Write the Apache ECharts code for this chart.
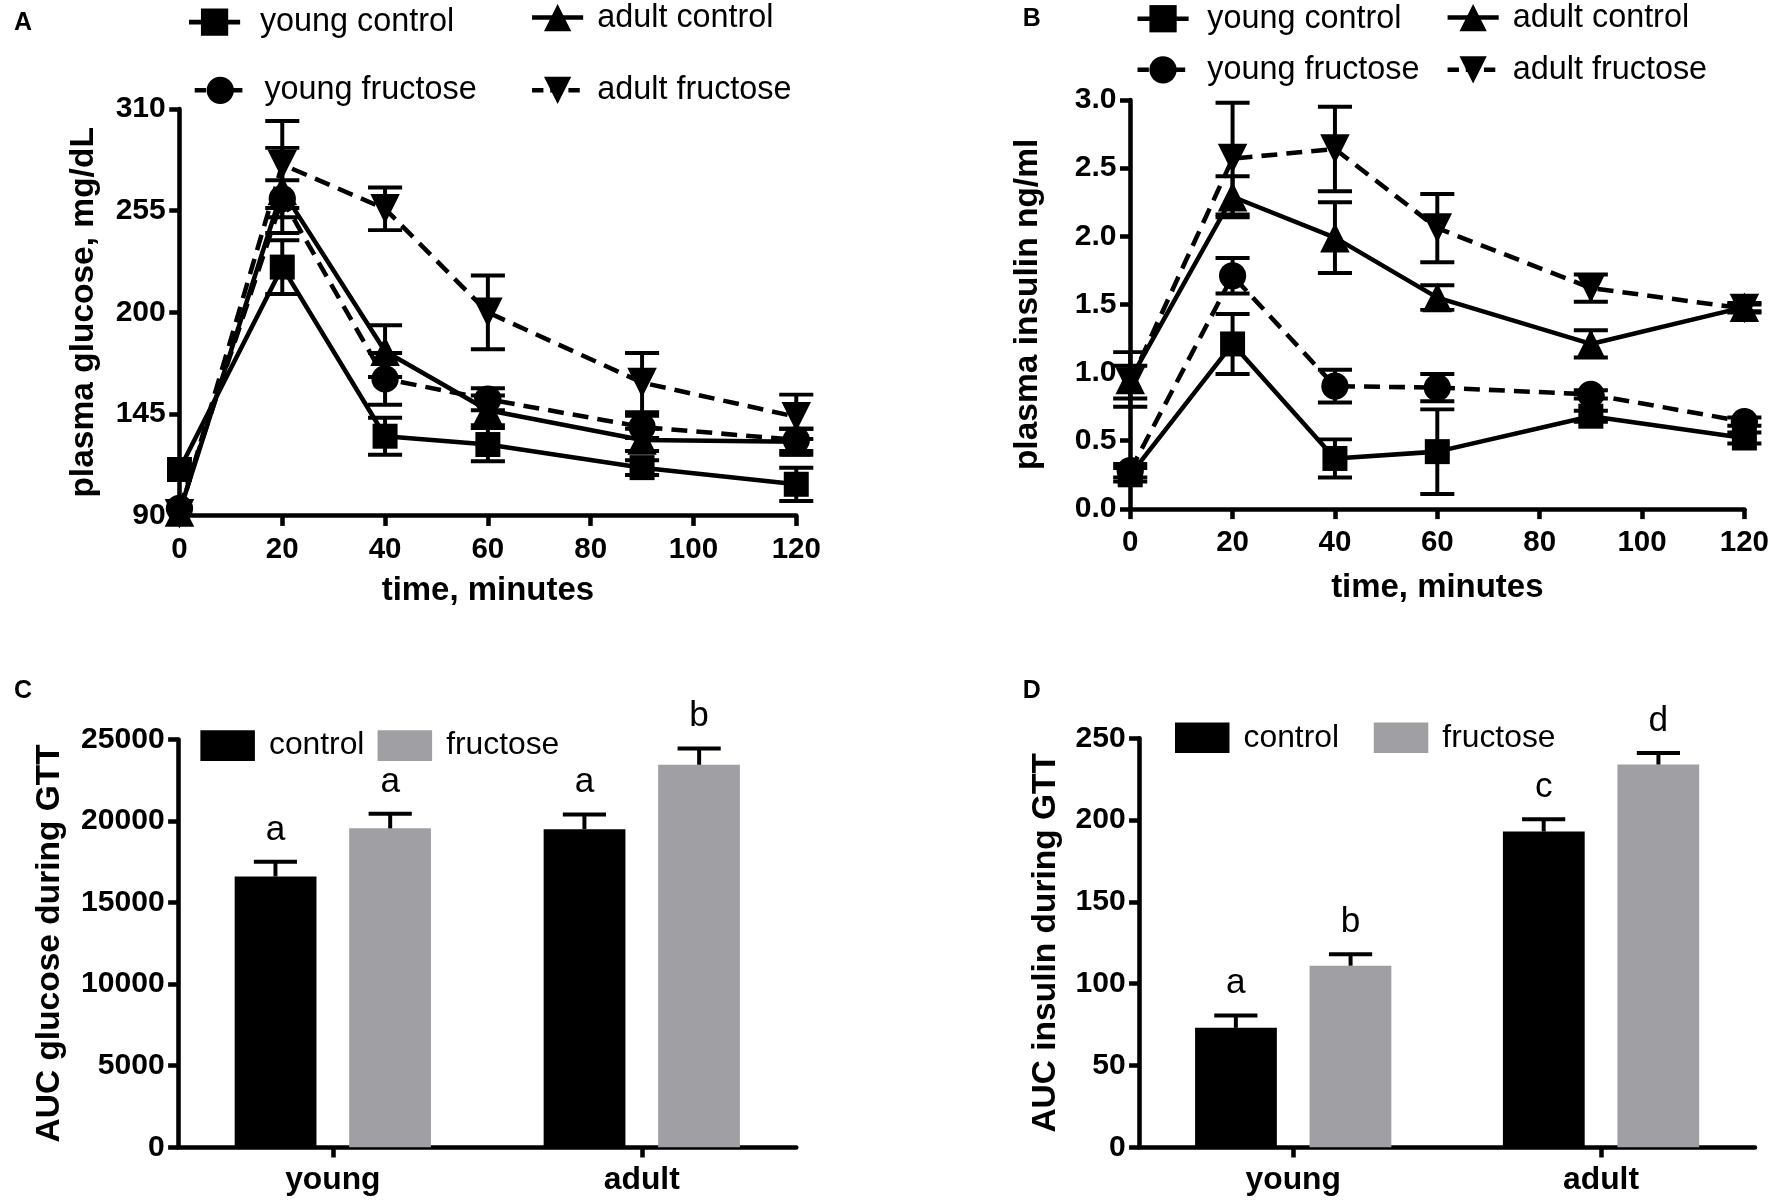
<!DOCTYPE html>
<html>
<head>
<meta charset="utf-8">
<script src="https://cdn.jsdelivr.net/npm/echarts@6/dist/echarts.min.js"></script>
<style>
html,body{margin:0;padding:0;background:#fff;}
#chart{width:1772px;height:1200px;}
</style>
</head>
<body>
<div id="chart"></div>
<script>
// ---------- DATA ----------
const times = [0, 20, 40, 60, 90, 120];

const glucoseYoungControl    = [115, 224.5, 133, 128.5, 116, 107];
const glucoseYoungControlErr = [0, 14.5, 10, 9, 4, 9];
const glucoseYoungFructose    = [94, 261.5, 164, 153, 138, 131];
const glucoseYoungFructoseErr = [0, 10, 14, 6, 6, 6];
const glucoseAdultControl    = [92, 266, 179, 147, 131, 130];
const glucoseAdultControlErr = [0, 23, 14, 8, 6, 7];
const glucoseAdultFructose    = [91, 280, 256, 200, 162, 143.5];
const glucoseAdultFructoseErr = [0, 23.5, 11.5, 20, 16, 12];

const insulinYoungControl    = [0.25, 1.21, 0.37, 0.42, 0.68, 0.52];
const insulinYoungControlErr = [0.05, 0.22, 0.14, 0.31, 0.04, 0.04];
const insulinYoungFructose    = [0.28, 1.71, 0.90, 0.89, 0.84, 0.64];
const insulinYoungFructoseErr = [0.05, 0.13, 0.12, 0.10, 0.03, 0.03];
const insulinAdultControl    = [0.95, 2.29, 1.99, 1.55, 1.21, 1.48];
const insulinAdultControlErr = [0.20, 0.15, 0.26, 0.09, 0.10, 0.03];
const insulinAdultFructose    = [0.93, 2.57, 2.64, 2.06, 1.62, 1.47];
const insulinAdultFructoseErr = [0.12, 0.41, 0.31, 0.25, 0.10, 0.03];

const ageGroups = ['young', 'adult'];
const aucGlucoseControl     = [16600, 19500];
const aucGlucoseControlErr  = [900, 900];
const aucGlucoseFructose    = [19550, 23450];
const aucGlucoseFructoseErr = [900, 1000];
const aucGlucoseControlLetters  = ['a', 'a'];
const aucGlucoseFructoseLetters = ['a', 'b'];

const aucInsulinControl     = [73, 193];
const aucInsulinControlErr  = [7.5, 7.5];
const aucInsulinFructose    = [111, 234];
const aucInsulinFructoseErr = [7, 7];
const aucInsulinControlLetters  = ['a', 'c'];
const aucInsulinFructoseLetters = ['b', 'd'];

// ---------- LAYOUT ----------
const S = 1772 / 1560;
const P = v => v * S;
const SANS = "'Liberation Sans',Arial,sans-serif";
const GRAY = '#a0a0a4';
const DASH = [P(14), P(8)];

const chart = echarts.init(document.getElementById('chart'), null, {renderer: 'canvas'});

function valueAxis(gridIndex, min, max, interval, name, nameGap, fmt) {
  return {
    type: 'value', gridIndex, min, max, interval,
    name, nameLocation: 'middle', nameGap: P(nameGap),
    nameTextStyle: {fontFamily: SANS, fontWeight: 'bold', fontSize: P(29.5), color: '#000'},
    axisLine: {show: true, lineStyle: {color: '#000', width: P(4)}},
    axisTick: {show: true, length: P(9), lineStyle: {color: '#000', width: P(4)}},
    axisLabel: {fontFamily: SANS, fontWeight: 'bold', fontSize: P(26.5), color: '#000', margin: P(12),
      formatter: fmt || (v => String(v))},
    splitLine: {show: false}
  };
}
function timeAxis(gridIndex, nameGap) {
  return {
    type: 'value', gridIndex, min: 0, max: 120, interval: 20,
    name: 'time, minutes', nameLocation: 'middle', nameGap: P(nameGap),
    nameTextStyle: {fontFamily: SANS, fontWeight: 'bold', fontSize: P(29), color: '#000'},
    axisLine: {show: true, onZero: false, lineStyle: {color: '#000', width: P(4)}},
    axisTick: {show: true, length: P(9), lineStyle: {color: '#000', width: P(4)}},
    axisLabel: {fontFamily: SANS, fontWeight: 'bold', fontSize: P(26), color: '#000', margin: P(17)},
    splitLine: {show: false}
  };
}
function catAxis(gridIndex) {
  return {
    type: 'category', gridIndex, data: ageGroups,
    axisLine: {show: true, lineStyle: {color: '#000', width: P(4)}},
    axisTick: {show: true, alignWithLabel: true, length: P(9), lineStyle: {color: '#000', width: P(4)}},
    axisLabel: {fontFamily: SANS, fontWeight: 'bold', fontSize: P(28), color: '#000', margin: P(15)}
  };
}

const lineDefs = {
  'young control':  {symbol: 'rect',     size: 22, rot: 0,   dashed: false},
  'young fructose': {symbol: 'circle',   size: 24, rot: 0,   dashed: true},
  'adult control':  {symbol: 'triangle', size: 26, rot: 0,   dashed: false},
  'adult fructose': {symbol: 'triangle', size: 26, rot: 180, dashed: true}
};

function errSeries(xi, yi, vals, errs, capHalf) {
  return {
    type: 'custom', xAxisIndex: xi, yAxisIndex: yi, silent: true, z: 1,
    data: times.map((t, i) => [t, vals[i], errs[i]]),
    renderItem: function (params, api) {
      const x = api.value(0), y = api.value(1), e = api.value(2);
      if (!(e > 0)) return null;
      const top = api.coord([x, y + e]);
      const bot = api.coord([x, y - e]);
      const st = {stroke: '#000', lineWidth: P(3.5)};
      const hw = P(capHalf);
      return {type: 'group', children: [
        {type: 'line', shape: {x1: top[0], y1: top[1], x2: bot[0], y2: bot[1]}, style: st},
        {type: 'line', shape: {x1: top[0] - hw, y1: top[1], x2: top[0] + hw, y2: top[1]}, style: st},
        {type: 'line', shape: {x1: bot[0] - hw, y1: bot[1], x2: bot[0] + hw, y2: bot[1]}, style: st}
      ]};
    }
  };
}
function lineSeries(name, xi, yi, vals) {
  const def = lineDefs[name];
  return {
    type: 'line', name, xAxisIndex: xi, yAxisIndex: yi, z: 3,
    data: times.map((t, i) => [t, vals[i]]),
    symbol: def.symbol, symbolSize: P(def.size), symbolRotate: def.rot, showAllSymbol: true,
    itemStyle: {color: '#000'},
    lineStyle: {color: '#000', width: P(4), type: def.dashed ? DASH : 'solid'},
    animation: false
  };
}

const barWidth = P(72);
const barOffset = (72 + 29) / 2;
function barErrSeries(xi, yi, vals, errs, letters, side) {
  return {
    type: 'custom', xAxisIndex: xi, yAxisIndex: yi, silent: true, z: 4,
    data: vals.map((v, i) => [i, v, errs[i]]),
    renderItem: function (params, api) {
      const c = api.value(0), y = api.value(1), e = api.value(2);
      const base = api.coord([c, y]);
      const top = api.coord([c, y + e]);
      const x = base[0] + side * P(barOffset);
      const st = {stroke: '#000', lineWidth: P(3.5)};
      const hw = P(19);
      return {type: 'group', children: [
        {type: 'line', shape: {x1: x, y1: base[1], x2: x, y2: top[1]}, style: st},
        {type: 'line', shape: {x1: x - hw, y1: top[1], x2: x + hw, y2: top[1]}, style: st},
        {type: 'text', style: {text: letters[params.dataIndex], x: x, y: top[1] - P(28),
          align: 'center', verticalAlign: 'middle', fontFamily: SANS, fontSize: P(31), fill: '#000'}}
      ]};
    }
  };
}
function barSeries(name, xi, yi, vals, color) {
  return {
    type: 'bar', name, xAxisIndex: xi, yAxisIndex: yi, data: vals,
    barWidth: barWidth, barGap: '40%', itemStyle: {color}, animation: false, z: 2
  };
}

function lineLegend(name, left, centerY, pad) {
  const def = lineDefs[name];
  return {
    data: [name], left: P(left), top: P(centerY - 17), orient: 'horizontal',
    itemWidth: P(45), itemHeight: P(30), selectedMode: false,
    lineStyle: {width: P(4), color: '#000', type: def.dashed ? [P(10), P(6)] : 'solid'},
    textStyle: {fontFamily: SANS, fontSize: P(28.5), color: '#000', padding: [0, 0, 0, P(pad)]}
  };
}
function barLegend(name, left, centerY) {
  return {
    data: [name], left: P(left), top: P(centerY - 17), icon: 'rect',
    itemWidth: P(48), itemHeight: P(27), selectedMode: false,
    textStyle: {fontFamily: SANS, fontSize: P(28), color: '#000', padding: [0, 0, 0, P(8)]}
  };
}
const panelTitle = (t, l, tp) => ({text: t, left: P(l), top: P(tp),
  textStyle: {fontFamily: SANS, fontWeight: 'bold', fontSize: P(22), color: '#000'}});

const option = {
  backgroundColor: '#fff',
  animation: false,
  title: [panelTitle('A', 8, 5), panelTitle('B', 896, 1), panelTitle('C', 8, 593), panelTitle('D', 896, 593)],
  legend: [
    lineLegend('young control', 160, 18, 13),
    lineLegend('adult control', 462, 14, 8),
    lineLegend('young fructose', 165, 78, 12),
    lineLegend('adult fructose', 462, 78, 8),
    lineLegend('young control', 995, 15, 12),
    lineLegend('adult control', 1268, 14, 8),
    lineLegend('young fructose', 995, 60, 12),
    lineLegend('adult fructose', 1268, 60, 8),
    barLegend('control', 172, 655),
    barLegend('fructose', 328, 655),
    barLegend('control', 1030, 648),
    barLegend('fructose', 1205, 648)
  ],
  grid: [
    {left: P(158), top: P(96), width: P(543), height: P(358)},
    {left: P(995), top: P(88), width: P(542), height: P(360)},
    {left: P(157), top: P(651), width: P(544), height: P(359)},
    {left: P(1003), top: P(650), width: P(542), height: P(360)}
  ],
  xAxis: [timeAxis(0, 52), timeAxis(1, 55), catAxis(2), catAxis(3)],
  yAxis: [
    valueAxis(0, 90, 310, 55, 'plasma glucose, mg/dL', 69),
    valueAxis(1, 0, 3, 0.5, 'plasma insulin ng/ml', 75, v => v.toFixed(1)),
    valueAxis(2, 0, 25000, 5000, 'AUC glucose during GTT', 98),
    valueAxis(3, 0, 250, 50, 'AUC insulin during GTT', 67)
  ],
  series: [
    errSeries(0, 0, glucoseYoungControl, glucoseYoungControlErr, 15),
    errSeries(0, 0, glucoseYoungFructose, glucoseYoungFructoseErr, 15),
    errSeries(0, 0, glucoseAdultControl, glucoseAdultControlErr, 15),
    errSeries(0, 0, glucoseAdultFructose, glucoseAdultFructoseErr, 15),
    lineSeries('young control', 0, 0, glucoseYoungControl),
    lineSeries('young fructose', 0, 0, glucoseYoungFructose),
    lineSeries('adult control', 0, 0, glucoseAdultControl),
    lineSeries('adult fructose', 0, 0, glucoseAdultFructose),

    errSeries(1, 1, insulinYoungControl, insulinYoungControlErr, 15),
    errSeries(1, 1, insulinYoungFructose, insulinYoungFructoseErr, 15),
    errSeries(1, 1, insulinAdultControl, insulinAdultControlErr, 15),
    errSeries(1, 1, insulinAdultFructose, insulinAdultFructoseErr, 15),
    lineSeries('young control', 1, 1, insulinYoungControl),
    lineSeries('young fructose', 1, 1, insulinYoungFructose),
    lineSeries('adult control', 1, 1, insulinAdultControl),
    lineSeries('adult fructose', 1, 1, insulinAdultFructose),

    barSeries('control', 2, 2, aucGlucoseControl, '#000'),
    barSeries('fructose', 2, 2, aucGlucoseFructose, GRAY),
    barErrSeries(2, 2, aucGlucoseControl, aucGlucoseControlErr, aucGlucoseControlLetters, -1),
    barErrSeries(2, 2, aucGlucoseFructose, aucGlucoseFructoseErr, aucGlucoseFructoseLetters, 1),

    barSeries('control', 3, 3, aucInsulinControl, '#000'),
    barSeries('fructose', 3, 3, aucInsulinFructose, GRAY),
    barErrSeries(3, 3, aucInsulinControl, aucInsulinControlErr, aucInsulinControlLetters, -1),
    barErrSeries(3, 3, aucInsulinFructose, aucInsulinFructoseErr, aucInsulinFructoseLetters, 1)
  ]
};
chart.setOption(option);
</script>
</body>
</html>
